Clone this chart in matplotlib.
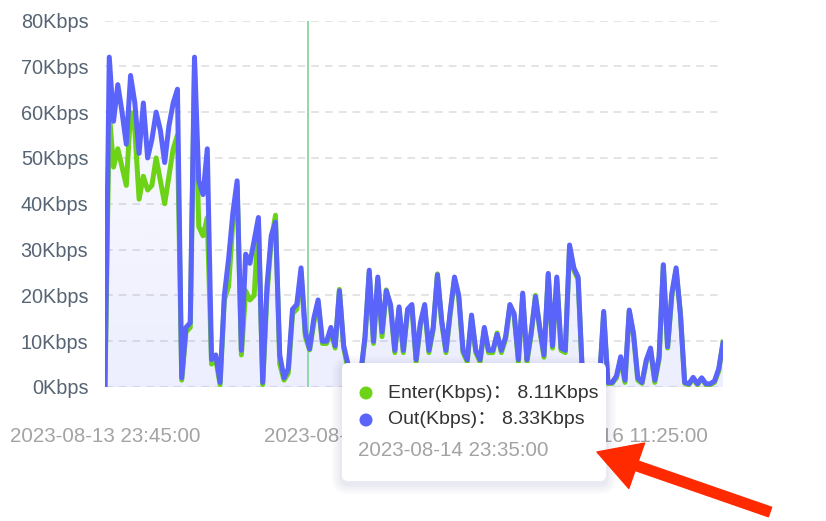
import matplotlib
matplotlib.use('Agg')
import matplotlib.pyplot as plt
import matplotlib.dates as mdates
from matplotlib.patches import FancyBboxPatch, Circle, FancyArrow, Rectangle
from matplotlib.transforms import IdentityTransform
import numpy as np
import pandas as pd

#------------------------------------------------------------------------#
# Data (30 minute samples)
#------------------------------------------------------------------------#

start_time = '2023-08-13 23:45:00'
step_minutes = 30

out_kbps = [0, 72, 58, 66, 60, 53, 68, 62, 51, 62,
            50, 54, 60, 56, 49, 57, 62, 65, 2, 13,
            14, 72, 45, 42, 52, 6, 7, 1, 20, 28,
            38, 45, 8, 29, 27, 32, 37, 1, 22, 33,
            36, 7, 2, 4, 17, 18, 26, 12, 8.3, 15,
            19, 10, 10, 13, 9, 21, 9, 5, 1.5, 1.5,
            3, 11, 25.5, 10, 24, 12, 21, 18, 8, 17.5,
            8, 17, 18, 6, 14, 18, 8, 13, 24.5, 14.5,
            8, 16.5, 24, 20, 8, 6, 15.7, 8, 6, 13,
            8, 8, 11.5, 8, 11, 18, 16, 6, 20.5, 6,
            12, 19.7, 13, 7, 24.8, 9, 24, 8.5, 8, 31,
            26, 24, 3, 1, 1, 1, 1, 16.5, 1, 1,
            2.4, 6.6, 1.5, 16.8, 11.7, 2, 1, 5.9, 8.5, 1.5,
            6.6, 26.7, 8.8, 20.5, 26, 16, 1, 0.7, 2.1, 0.7,
            2, 0.7, 0.7, 1.3, 4, 9.6]

enter_kbps = [0, 60, 48, 52, 48, 44, 60, 56, 41, 46,
              43, 44, 50, 45, 40, 46, 52, 55, 1.5, 12,
              13, 70, 35, 33, 37, 5, 6, 0.5, 19, 22,
              36, 44, 7, 21, 19, 20, 36, 0.5, 20, 32,
              37.5, 5, 1.5, 3, 16, 17, 25, 11, 8.1, 14,
              18.5, 9.5, 9.5, 12, 8.5, 21.3, 8.5, 4, 1, 1,
              2.5, 10.5, 25, 9.5, 23.5, 11, 21.2, 17.5, 7.5, 17,
              7.5, 16.5, 17.5, 5.5, 13.5, 17.5, 7.5, 12.5, 24.7, 14,
              7.5, 16, 23.5, 19.5, 7.5, 5.5, 15, 7.5, 5.5, 12.5,
              7.5, 7.5, 11.8, 7.5, 10.5, 17.5, 15.5, 5.5, 20, 5.5,
              11.5, 20, 12.5, 6.5, 24.5, 8.5, 23.5, 8, 7.5, 30.5,
              25.5, 23.5, 2.5, 0.8, 0.8, 0.8, 0.8, 16, 0.8, 0.8,
              2, 6, 1, 16.5, 11.3, 1.5, 0.8, 5.5, 8, 1,
              6, 26.5, 8.5, 20, 25.5, 16.2, 0.8, 0.5, 1.8, 0.5,
              1.8, 0.5, 0.5, 1, 3.5, 9.8]

x_tick_times = ['2023-08-13 23:45:00', '2023-08-15 05:35:00', '2023-08-16 11:25:00']
y_ticks = [0, 10, 20, 30, 40, 50, 60, 70, 80]

tooltip_time = '2023-08-14 23:35:00'
tooltip_enter = '8.11Kbps'
tooltip_out = '8.33Kbps'

#------------------------------------------------------------------------#
# Style
#------------------------------------------------------------------------#

blue = '#5A64FA'
green = '#6DD317'
plt.rcParams['font.family'] = ['Liberation Sans', 'Noto Sans CJK SC', 'DejaVu Sans']

times = pd.date_range(start_time, periods=len(out_kbps), freq=f'{step_minutes}min')
t_num = mdates.date2num(times.to_pydatetime())

fig = plt.figure(figsize=(8.26, 5.21), dpi=100)
ax = fig.add_axes([105/826, 1-387/521, 618/826, (387-20.5)/521])

# dashed horizontal grid
for v in y_ticks:
    ax.axhline(v, color='#dcdcdc', lw=1.1, ls=(0, (5, 4)), zorder=0)

# faint gradient under the Out line
poly = ax.fill_between(t_num, out_kbps, 0, color='none', lw=0)
grad = np.zeros((100, 2, 4))
grad[..., 0], grad[..., 1], grad[..., 2] = 0x5A/255, 0x64/255, 0xFA/255
grad[..., 3] = np.linspace(0.11, 0.015, 100)[:, None]
im = ax.imshow(grad, extent=[t_num[0], t_num[-1], 0, 80], origin='lower',
               aspect='auto', zorder=1, interpolation='bilinear')
im.set_clip_path(poly.get_paths()[0], transform=ax.transData)

# hover line
ax.axvline(mdates.date2num(pd.Timestamp(tooltip_time)), color='#8ad6a0', lw=1.3, zorder=1.5)

ax.plot(t_num, enter_kbps, color=green, lw=3.6, solid_joinstyle='round', zorder=2)
ax.plot(t_num, out_kbps, color=blue, lw=3.6, solid_joinstyle='round', zorder=3)

ax.set_xlim(t_num[0], t_num[-1])
ax.set_ylim(0, 80)
ax.set_yticks(y_ticks)
ax.set_yticklabels([f'{v}Kbps' for v in y_ticks], color='#566474', fontsize=14.3)
ax.set_xticks(mdates.date2num(pd.to_datetime(x_tick_times).to_pydatetime()))
ax.set_xticklabels(x_tick_times, color='#a3a3a3', fontsize=14.8)
ax.tick_params(axis='y', length=0, pad=12)
ax.tick_params(axis='x', length=0, pad=29)
for s in ax.spines.values():
    s.set_visible(False)

H = 521
ident = IdentityTransform()

# the middle tick label sits under the tooltip; only its left part shows
mid_clip = Rectangle((0, 0), 342, H, transform=ident)
ax.get_xticklabels()[1].set_clip_path(mid_clip)

#------------------------------------------------------------------------#
# Tooltip box (figure pixels)
#------------------------------------------------------------------------#

for k, a in enumerate([0.02, 0.025, 0.025, 0.03]):
    g = 10 - 2.5 * k
    fig.add_artist(FancyBboxPatch((342 - g, H - 481 - g - 3), 264 + 2 * g, 118 + 2 * g,
                                  boxstyle='round,pad=0,rounding_size=%g' % (6 + g),
                                  fc='#30307a', ec='none', alpha=a, transform=ident, zorder=8))
fig.add_artist(FancyBboxPatch((342, H - 481), 264, 118, boxstyle='round,pad=0,rounding_size=6',
                              fc='white', ec='none', transform=ident, zorder=9))
fig.add_artist(Circle((366, H - 393), 6.5, fc=green, ec='none', transform=ident, zorder=10))
fig.add_artist(Circle((366, H - 420), 6.5, fc=blue, ec='none', transform=ident, zorder=10))
fig.text(388/826, 1 - 393/H, 'Enter(Kbps)： ' + tooltip_enter, fontsize=14, color='#333333',
         va='center', ha='left', zorder=10)
fig.text(388/826, 1 - 420/H, 'Out(Kbps)： ' + tooltip_out, fontsize=14, color='#333333',
         va='center', ha='left', zorder=10)
fig.text(358/826, 1 - 450/H, tooltip_time, fontsize=14.8, color='#a3a3a3',
         va='center', ha='left', zorder=10)

# red annotation arrow
x0, y0 = 770, H - 512
x1, y1 = 597, H - 452
fig.add_artist(FancyArrow(x0, y0, x1 - x0, y1 - y0, width=10, head_width=48, head_length=42,
                          length_includes_head=True, fc='#FF2A00', ec='#FF2A00', lw=1,
                          joinstyle='round', transform=ident, zorder=11))

plt.savefig('out.png', dpi=100)
